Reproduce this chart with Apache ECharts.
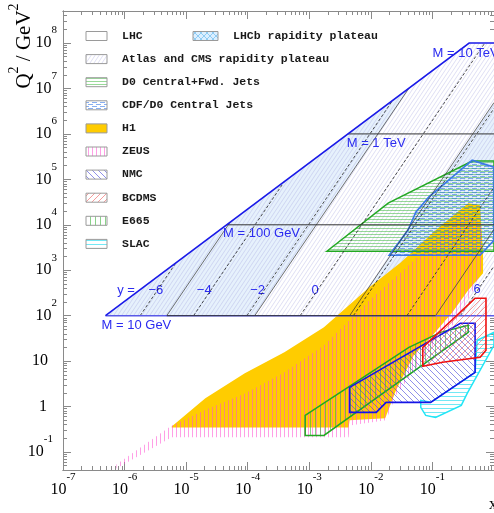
<!DOCTYPE html>
<html><head><meta charset="utf-8">
<script src="https://cdn.jsdelivr.net/npm/echarts@6/dist/echarts.min.js"></script>
<style>html,body{margin:0;padding:0;background:#fff}#c{width:494px;height:513px}</style>
</head><body><div id="c"></div><script>
// ---------------- axis ranges & ticks ----------------
const xRange = [1e-7, 1];
const yRange = [0.0402, 5.07e8];
const xMajorTicks = [1e-7, 1e-6, 1e-5, 1e-4, 1e-3, 1e-2, 1e-1, 1];
const xTickLabels = [1e-7, 1e-6, 1e-5, 1e-4, 1e-3, 1e-2, 1e-1];
const yMajorTicks = [0.1, 1, 10, 1e2, 1e3, 1e4, 1e5, 1e6, 1e7, 1e8];
const yTickLabels = [0.1, 1, 10, 1e2, 1e3, 1e4, 1e5, 1e6, 1e7, 1e8];
const minorMultipliers = [2, 3, 4, 5, 6, 7, 8, 9];

// ---------------- LHC kinematic region ----------------
const lhcRegion = [[4.9e-7, 100], [0.395, 1e8], [1, 1e8], [1, 100]];
const centralStrip = [[1.30e-4, 100], [0.0412, 1e7], [0.395, 1e8], [1, 1e8], [1, 4.9e6], [4.52e-3, 100]];
const forwardStrip = [[0.1125, 100], [1, 7.9e3], [1, 100]];
const lhcEdge = [[4.9e-7, 100], [0.395, 1e8], [1, 1e8]];
const lhcFloor = [[4.9e-7, 100], [1, 100]];
const floorBlack = [[4.84e-6, 100], [0.1125, 100]];
const massLine100GeV = [[4.56e-5, 1e4], [1, 1e4]];
const massLine1TeV = [[4.25e-3, 1e6], [1, 1e6]];
const plateauEdges = [
  [[4.84e-6, 100], [5.15e-5, 1.13e4]],
  [[1.30e-4, 100], [0.0412, 1e7]],
  [[4.52e-3, 100], [1, 4.9e6]],
  [[0.1125, 100], [1, 7.9e3]]
];
const rapidityLines = [
  [[1.79e-6, 100], [6.8e-6, 1.45e3]],
  [[1.32e-5, 100], [3.93e-4, 8.9e4]],
  [[9.7e-5, 100], [0.0226, 5.5e6]],
  [[7.1e-4, 100], [0.71, 1e8]],
  [[5.2e-3, 100], [1, 3.65e6]],
  [[0.0385, 100], [1, 6.7e4]],
  [[0.284, 100], [1, 1.24e3]]
];
const rapidityLabelText = ['y =', '\u22126', '\u22124', '\u22122', '0', '6'];
const rapidityLabelAt = [[7.6e-7, 362], [3.23e-6, 362], [1.97e-5, 362], [1.45e-4, 362], [1.24e-3, 362], [0.532, 381]];
const rapidityLabelAlign = ['left', 'center', 'center', 'center', 'center', 'center'];
const massLabelText = ['M = 10 GeV', 'M = 100 GeV', 'M = 1 TeV', 'M = 10 TeV'];
const massLabelAt = [[4.23e-7, 61.5], [3.98e-5, 6.53e3], [4.05e-3, 6.27e5], [0.1007, 6.0e7]];

// ---------------- experiments ----------------
const d0Region = [[1.93e-3, 2.62e3], [0.0191, 2.99e4], [0.442, 2.52e5], [1, 2.52e5], [1, 2.62e3]];
const cdfRegion = [[0.0198, 2.14e3], [0.040, 7.6e3], [0.0537, 1.9e4], [0.0869, 4.06e4], [0.442, 2.65e5], [1, 1.86e5], [1, 4.58e3], [0.594, 2.14e3]];
const h1Region = [[5.83e-6, 0.348], [5.83e-6, 0.366], [2.05e-5, 1.52], [8.97e-5, 5.38], [3.94e-4, 15.6], [1.73e-3, 55.5],
  [9.46e-3, 423], [0.0309, 1500], [0.1125, 7600], [0.381, 2.99e4], [0.594, 2.7e4], [0.664, 2370], [0.664, 859],
  [0.381, 362], [0.211, 119], [0.1007, 37], [0.0499, 13.4], [0.0256, 2.28], [0.0171, 0.55], [4.52e-3, 0.497], [4.36e-3, 0.348]];
const zeusRegion = [[7.36e-7, 0.0533], [5.83e-6, 0.385], [2.29e-5, 0.912], [8.97e-5, 1.95], [3.94e-4, 5.66], [1.73e-3, 22.3],
  [9.46e-3, 218], [0.0309, 904], [0.1125, 4580], [0.341, 1.8e4], [0.640, 9800], [0.664, 1290], [0.458, 362], [0.235, 71.6],
  [0.1125, 25.9], [0.0537, 6.93], [0.0256, 1.77], [0.0177, 0.497], [4.52e-3, 0.385], [4.36e-3, 0.21], [5.83e-6, 0.21], [7.36e-7, 0.0436]];
const e665Region = [[8.57e-4, 0.232], [8.57e-4, 0.64], [0.0415, 20.1], [0.1355, 43], [0.381, 61.5], [0.381, 43], [1.73e-3, 0.232]];
const nmcRegion = [[4.52e-3, 2.65], [4.52e-3, 0.745], [0.01225, 0.745], [0.0177, 1.24], [0.0935, 1.24], [0.493, 5.66], [0.493, 68], [0.284, 68]];
const bcdmsRegion = [[0.0697, 20.1], [0.0697, 7.67], [0.146, 9.42], [0.594, 12.1], [0.741, 17.3], [0.741, 242], [0.493, 242]];
const slacRegion = [[0.0646, 1.37], [0.0646, 0.96], [0.0778, 0.64], [0.1125, 0.578], [0.294, 1.06], [0.367, 1.95], [1, 22.3], [1, 43],
  [0.532, 28.7], [0.493, 5.66], [0.0935, 1.24]];

const legendLeft = ['LHC', 'Atlas and CMS rapidity plateau', 'D0 Central+Fwd. Jets', 'CDF/D0 Central Jets', 'H1', 'ZEUS', 'NMC', 'BCDMS', 'E665', 'SLAC'];
const legendRight = ['LHCb rapidity plateau'];

// ---------------- patterns ----------------
function pat(w, h, fn) {
  const c = document.createElement('canvas'); c.width = w; c.height = h;
  const g = c.getContext('2d'); fn(g, w, h);
  return { image: c, repeat: 'repeat' };
}
function diag(color, w, h, up, lw) {
  return pat(w, h, (g) => {
    g.strokeStyle = color; g.lineWidth = lw || 1;
    for (let k = -1; k <= 1; k++) {
      g.beginPath();
      if (up) { g.moveTo(k * w, h); g.lineTo(k * w + w, 0); }
      else { g.moveTo(k * w, 0); g.lineTo(k * w + w, h); }
      g.stroke();
    }
  });
}
const P = {
  atlas: diag('rgba(165,165,225,0.45)', 4, 6, true, 0.8),
  lhcb: pat(6, 6, (g) => { g.fillStyle = '#dcefff'; g.fillRect(0, 0, 6, 6); g.strokeStyle = 'rgba(110,190,240,0.7)'; g.lineWidth = 1;
    g.beginPath(); g.moveTo(0, 0); g.lineTo(6, 6); g.moveTo(6, 0); g.lineTo(0, 6); g.stroke(); }),
  d0: pat(1, 3, (g) => { g.fillStyle = 'rgba(70,185,70,0.55)'; g.fillRect(0, 0, 1, 1); }),
  cdf: pat(8, 4, (g) => { g.fillStyle = 'rgba(40,110,230,0.55)'; g.fillRect(0, 0, 5, 1); g.fillRect(4, 2, 5, 1); g.fillRect(0, 2, 1, 1); }),
  zeus: pat(4, 1, (g) => { g.fillStyle = 'rgba(255,80,210,0.55)'; g.fillRect(0, 0, 1, 1); }),
  nmc: diag('rgba(70,70,220,0.6)', 6, 6, false, 1),
  bcdms: diag('rgba(240,90,90,0.6)', 6, 6, true, 1),
  e665: pat(5, 1, (g) => { g.fillStyle = 'rgba(60,180,60,0.6)'; g.fillRect(0, 0, 1, 1); }),
  slac: pat(1, 4, (g) => { g.fillStyle = 'rgba(40,220,240,0.65)'; g.fillRect(0, 0, 1, 1); })
};

// ---------------- series helpers ----------------
let zc = 1;
function polySeries(pts, style) {
  return { type: 'custom', coordinateSystem: 'cartesian2d', silent: true, clip: true, z: zc++, data: [pts[0]],
    renderItem: (p, api) => ({ type: 'polygon', shape: { points: pts.map(q => api.coord(q)) }, style: style }) };
}
function lineSeries(lines, style) {
  return { type: 'custom', coordinateSystem: 'cartesian2d', silent: true, clip: true, z: zc++, data: lines.map(l => l[0]),
    renderItem: (p, api) => ({ type: 'polyline', shape: { points: lines[p.dataIndex].map(q => api.coord(q)) }, style: Object.assign({ fill: null }, style) }) };
}
function textSeries(texts, at, aligns) {
  return { type: 'custom', coordinateSystem: 'cartesian2d', silent: true, clip: false, z: zc++, data: at,
    renderItem: (p, api) => { const c = api.coord(at[p.dataIndex]);
      return { type: 'text', x: c[0], y: c[1], style: { text: texts[p.dataIndex], fill: '#2b2bf0', font: '13px "Liberation Sans"',
        align: aligns ? aligns[p.dataIndex] : 'left', verticalAlign: 'middle' } }; } };
}

const series = [
  polySeries(lhcRegion, { fill: '#e6f1fc' }),
  polySeries(centralStrip, { fill: '#ffffff' }),
  polySeries(forwardStrip, { fill: '#ffffff' }),
  polySeries(lhcRegion, { fill: P.atlas }),
  textSeries(rapidityLabelText, rapidityLabelAt, rapidityLabelAlign),
  polySeries(h1Region, { fill: '#ffcc00' }),
  polySeries(zeusRegion, { fill: P.zeus }),
  polySeries(d0Region, { fill: P.d0, stroke: '#22a822', lineWidth: 1.5 }),
  polySeries(cdfRegion, { fill: P.cdf, stroke: '#3a78e8', lineWidth: 1.6 }),
  lineSeries(rapidityLines, { stroke: '#222', lineWidth: 0.8, lineDash: [3, 2] }),
  lineSeries(plateauEdges, { stroke: '#333', lineWidth: 0.7 }),
  lineSeries([lhcFloor], { stroke: '#5a5ae8', lineWidth: 1.5 }),
  lineSeries([floorBlack, massLine100GeV, massLine1TeV], { stroke: '#333', lineWidth: 1 }),
  lineSeries([lhcEdge], { stroke: '#1a1ae8', lineWidth: 1.6 }),
  polySeries(slacRegion, { fill: P.slac, stroke: '#22e6f6', lineWidth: 1.5 }),
  polySeries(e665Region, { fill: P.e665, stroke: '#22a822', lineWidth: 1.5 }),
  polySeries(nmcRegion, { fill: P.nmc, stroke: '#1414e6', lineWidth: 1.6 }),
  polySeries(bcdmsRegion, { fill: P.bcdms, stroke: '#ee1010', lineWidth: 1.6 }),
  textSeries(massLabelText, massLabelAt, null)
];

// ---------------- axes ----------------
const minorOf = (majors) => { const out = []; majors.forEach(m => minorMultipliers.forEach(k => out.push(+(m * k).toPrecision(3)))); return out; };
const xMinor = minorOf(xMajorTicks.slice(0, -1));
const yMinor = minorOf([0.01].concat(yMajorTicks)).filter(v => v > yRange[0] && v < yRange[1]);
const serif = '"Liberation Serif"';
const rich = {
  b: { fontFamily: serif, fontSize: 16, lineHeight: 36, padding: [10, 0, 10, 0], verticalAlign: 'top', color: '#000' },
  b1: { fontFamily: serif, fontSize: 16, lineHeight: 36, padding: [10, 10, 10, 0], verticalAlign: 'top', color: '#000' },
  b10: { fontFamily: serif, fontSize: 16, lineHeight: 36, padding: [10, 9, 10, 0], verticalAlign: 'top', color: '#000' },
  e: { fontFamily: serif, fontSize: 11, lineHeight: 11, verticalAlign: 'top', color: '#000' },
  en: { fontFamily: serif, fontSize: 11, lineHeight: 11, padding: [0, 4, 0, 0], verticalAlign: 'top', color: '#000' }
};
const expOf = v => Math.round(Math.log10(v));
const axisCol = '#8a8a8a';
function mkAxis(kind, pos, ticks, len, labels) {
  const a = { type: 'log', logBase: 10, position: pos, min: kind === 'x' ? xRange[0] : yRange[0], max: kind === 'x' ? xRange[1] : yRange[1],
    splitLine: { show: false }, minorTick: { show: false },
    axisLine: { show: true, lineStyle: { color: axisCol, width: 1 } },
    axisTick: { show: true, inside: true, length: len, customValues: ticks, lineStyle: { color: axisCol, width: 1 } },
    axisLabel: { show: false } };
  if (labels) {
    a.axisLabel = { show: true, customValues: labels, rich: rich, margin: kind === 'x' ? 2 : 6,
      formatter: kind === 'x' ? (v => '{b|10}{e|' + expOf(v) + '}') : (v => { const n = expOf(v);
        if (n === 0) return '{b1|1}'; if (n === 1) return '{b10|10}'; if (n < 0) return '{b|10}{en|' + n + '}'; return '{b|10}{e|' + n + '}'; }) };
  }
  return a;
}

const legendGraphics = [];
const leftSwatch = ['#ffffff', P.atlas, P.d0, P.cdf, '#ffcc00', P.zeus, P.nmc, P.bcdms, P.e665, P.slac];
legendLeft.forEach((t, i) => {
  const cy = 36 + 23.1 * i;
  legendGraphics.push({ type: 'rect', shape: { x: 86, y: cy - 4.5, width: 21, height: 9 }, style: { fill: leftSwatch[i], stroke: '#9a9a9a', lineWidth: 1 }, z: 100 });
  legendGraphics.push({ type: 'text', x: 122, y: cy, style: { text: t, font: 'bold 11.5px "Liberation Mono"', fill: '#1a1a1a', verticalAlign: 'middle' }, z: 100 });
});
legendRight.forEach((t, i) => {
  const cy = 36 + 23.1 * i;
  legendGraphics.push({ type: 'rect', shape: { x: 193, y: cy - 4.5, width: 25, height: 9 }, style: { fill: P.lhcb, stroke: '#9a9a9a', lineWidth: 1 }, z: 100 });
  legendGraphics.push({ type: 'text', x: 233, y: cy, style: { text: t, font: 'bold 11.5px "Liberation Mono"', fill: '#1a1a1a', verticalAlign: 'middle' }, z: 100 });
});
legendGraphics.push({ type: 'text', x: 21, y: 46, rotation: Math.PI / 2, z: 100,
  style: { text: '{q|Q}{s|2}{q| / GeV}{s|2}', align: 'center', verticalAlign: 'middle',
    rich: { q: { fontFamily: serif, fontSize: 21, lineHeight: 28, padding: [7, 0, 0, 0], verticalAlign: 'top', fill: '#000' },
            s: { fontFamily: serif, fontSize: 14, lineHeight: 14, verticalAlign: 'top', fill: '#000' } } } });
legendGraphics.push({ type: 'text', x: 489, y: 497, z: 100, style: { text: 'x', font: '16px ' + serif, fill: '#000' } });

const chart = echarts.init(document.getElementById('c'), null, { renderer: 'canvas' });
chart.setOption({
  animation: false,
  grid: { left: 63, top: 11, width: 436, height: 459, containLabel: false },
  xAxis: [
    mkAxis('x', 'bottom', xMajorTicks, 8, xTickLabels),
    mkAxis('x', 'bottom', xMinor, 4, null),
    mkAxis('x', 'top', xMajorTicks, 8, null),
    mkAxis('x', 'top', xMinor, 4, null)
  ],
  yAxis: [
    mkAxis('y', 'left', yMajorTicks, 8, yTickLabels),
    mkAxis('y', 'left', yMinor, 4, null),
    mkAxis('y', 'right', yMajorTicks, 8, null),
    mkAxis('y', 'right', yMinor, 4, null)
  ],
  graphic: legendGraphics,
  series: series
});
</script></body></html>
